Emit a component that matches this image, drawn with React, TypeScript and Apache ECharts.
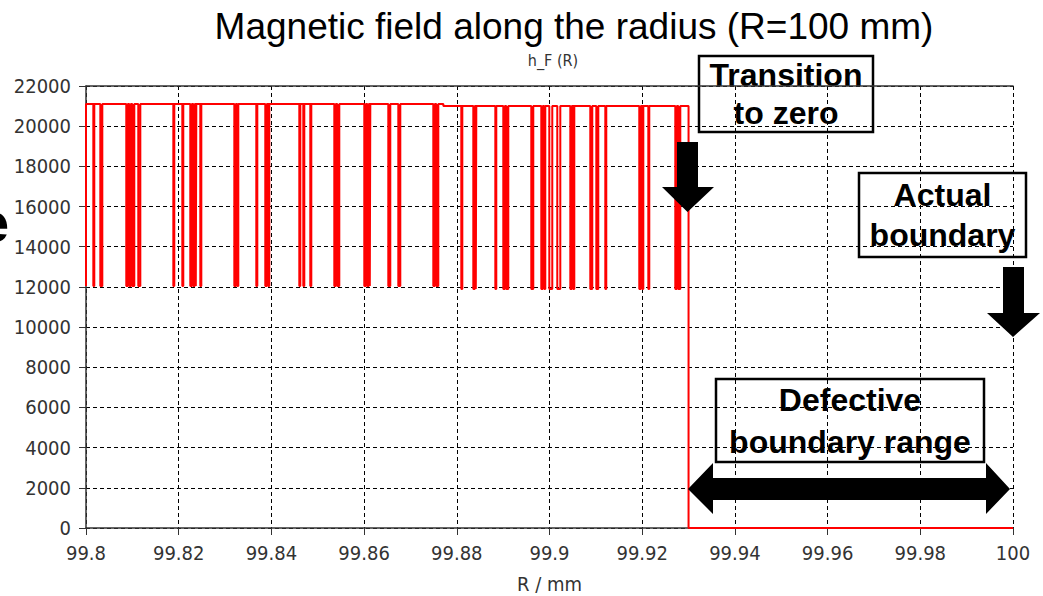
import React, { useEffect, useRef } from "react";
import * as echarts from "echarts";

// Radial positions (mm) where h_F drops into a dip and where it recovers
const dipStart = [
  99.80158, 99.80309, 99.80869, 99.80934, 99.80999, 99.81128, 99.81884, 99.82078, 99.8225, 99.82315,
  99.82369, 99.82466, 99.832, 99.83264, 99.83674, 99.83868, 99.83933, 99.84602, 99.84688, 99.84839,
  99.85357, 99.85422, 99.86004, 99.86069, 99.86123, 99.86522, 99.86738, 99.87493, 99.87558, 99.88097,
  99.88356, 99.8841, 99.88831, 99.89003, 99.89068, 99.89607, 99.89823, 99.89888, 99.89996, 99.90168,
  99.90449, 99.90513, 99.9088, 99.9101, 99.91204, 99.91937, 99.92002, 99.92132, 99.92714, 99.92779,
];
const dipEnd = [
  99.80179, 99.80352, 99.80902, 99.80967, 99.81042, 99.81172, 99.81905, 99.82099, 99.82283, 99.82347,
  99.8238, 99.82488, 99.83232, 99.83286, 99.83696, 99.83901, 99.83955, 99.84624, 99.8471, 99.84861,
  99.85389, 99.85465, 99.86037, 99.86101, 99.86134, 99.86565, 99.86781, 99.87525, 99.87601, 99.88119,
  99.88388, 99.88421, 99.88852, 99.89036, 99.89111, 99.8965, 99.89855, 99.89909, 99.9006, 99.90233,
  99.90481, 99.90535, 99.90923, 99.91053, 99.91225, 99.9197, 99.92024, 99.92153, 99.92747, 99.92822,
];

// Field levels (plateau / dip) before and after the small shift near R = 99.877 mm
const levelShiftR = 99.8771;
const plateauH = [21100, 21000];
const dipH = [12050, 11900];

// Range of the radius axis and where the field falls to zero
const rStart = 99.8;
const zeroFromR = 99.93;
const rEnd = 100;

// Axis ranges
const xMin = 99.8;
const xMax = 100;
const xStep = 0.02;
const yMin = 0;
const yMax = 22000;
const yStep = 2000;

const titleText = "Magnetic field along the radius (R=100 mm)";
const subTitleText = "h_F (R)";
const xName = "R / mm";
const noteTransition = "Transition\nto zero";
const noteActual = "Actual\nboundary";
const noteDefective = "Defective\nboundary range";

function buildSteps(): [number, number][] {
  const level = (r: number, arr: number[]) => (r < levelShiftR ? arr[0] : arr[1]);
  const events: [number, number][] = [];
  dipStart.forEach((s, i) => {
    events.push([s, level(s, dipH)]);
    events.push([dipEnd[i], level(dipEnd[i], plateauH)]);
  });
  events.push([levelShiftR, plateauH[1]]);
  events.sort((a, b) => a[0] - b[0]);
  return [
    [rStart, dipH[0]],
    [rStart, plateauH[0]],
    ...events,
    [zeroFromR, 0],
    [rEnd, 0],
  ];
}

const labelFont = "'DejaVu Sans Condensed', 'Liberation Sans', sans-serif";
const boldFont = "'Liberation Sans', Arial, sans-serif";

function noteBox(x: number, y: number, w: number, h: number, text: string, lineHeight: number) {
  return {
    type: "group",
    z: 100,
    children: [
      {
        type: "rect",
        shape: { x, y, width: w, height: h },
        style: { fill: "#fff", stroke: "#000", lineWidth: 2.5 },
      },
      {
        type: "text",
        style: {
          text,
          x: x + w / 2,
          y: y + h / 2,
          align: "center",
          verticalAlign: "middle",
          fontFamily: boldFont,
          fontWeight: "bold",
          fontSize: 32,
          lineHeight,
          fill: "#000",
        },
      },
    ],
  };
}

export default function App() {
  const ref = useRef<HTMLDivElement>(null);

  useEffect(() => {
    if (!ref.current) return;
    const chart = echarts.init(ref.current, undefined, { renderer: "svg" });
    const gridLine = { show: true, lineStyle: { color: "#000", width: 1, type: [4, 3] as any } };

    chart.setOption({
      animation: false,
      backgroundColor: "#fff",
      grid: {
        left: 86,
        right: 30,
        top: 86,
        bottom: 68,
        containLabel: false,
        outerBoundsMode: "none",
      },
      xAxis: [
        {
          type: "value",
          min: xMin,
          max: xMax,
          interval: xStep,
          name: xName,
          nameLocation: "middle",
          nameGap: 46,
          nameTextStyle: { fontFamily: labelFont, fontSize: 20, color: "#333" },
          axisLine: { show: true, onZero: false, lineStyle: { color: "#333", width: 1.5 } },
          axisTick: { show: true, length: 7, lineStyle: { color: "#333" } },
          axisLabel: {
            margin: 15,
            fontFamily: labelFont,
            fontSize: 20,
            color: "#333",
            formatter: (v: number) => String(+v.toFixed(2)),
          },
          splitLine: gridLine,
        },
        {
          type: "value",
          position: "top",
          min: xMin,
          max: xMax,
          interval: xStep,
          axisLine: { show: true, onZero: false, lineStyle: { color: "#333", width: 1.5 } },
          axisTick: { show: false },
          axisLabel: { show: false },
          splitLine: { show: false },
        },
      ],
      yAxis: {
        type: "value",
        min: yMin,
        max: yMax,
        interval: yStep,
        axisLine: { show: true, lineStyle: { color: "#333", width: 1.5 } },
        axisTick: { show: true, length: 7, lineStyle: { color: "#333" } },
        axisLabel: {
          margin: 15,
          fontFamily: labelFont,
          fontSize: 20,
          color: "#333",
          formatter: (v: number) => String(v),
        },
        splitLine: gridLine,
      },
      series: [
        {
          type: "line",
          xAxisIndex: 0,
          step: "end",
          showSymbol: false,
          lineStyle: { color: "#ff0000", width: 2 },
          data: buildSteps(),
          z: 5,
        },
      ],
      graphic: [
        {
          type: "text",
          z: 100,
          style: {
            text: titleText,
            x: 574,
            y: 8,
            align: "center",
            verticalAlign: "top",
            fontFamily: boldFont,
            fontSize: 37,
            fill: "#000",
          },
        },
        {
          type: "text",
          z: 100,
          style: {
            text: subTitleText,
            x: 553,
            y: 52,
            align: "center",
            verticalAlign: "top",
            fontFamily: labelFont,
            fontSize: 16,
            fill: "#333",
          },
        },
        {
          type: "text",
          z: 100,
          style: {
            text: "e",
            x: -22,
            y: 222,
            align: "left",
            verticalAlign: "middle",
            fontFamily: boldFont,
            fontWeight: "bold",
            fontSize: 56,
            fill: "#000",
          },
        },
        noteBox(699, 56, 174, 76, noteTransition, 38),
        noteBox(859, 173, 167, 84, noteActual, 40),
        noteBox(716, 379, 268, 83, noteDefective, 42),
        {
          type: "polygon",
          z: 100,
          shape: {
            points: [
              [677, 142], [698, 142], [698, 187], [714, 187], [687.5, 212], [662, 187], [677, 187],
            ],
          },
          style: { fill: "#000" },
        },
        {
          type: "polygon",
          z: 100,
          shape: {
            points: [
              [1003, 267], [1024, 267], [1024, 313], [1040, 313], [1013, 337], [987, 313], [1003, 313],
            ],
          },
          style: { fill: "#000" },
        },
        {
          type: "polygon",
          z: 100,
          shape: {
            points: [
              [688, 489], [713, 463], [713, 478], [986, 478], [986, 463], [1010, 489],
              [986, 514], [986, 500], [713, 500], [713, 514],
            ],
          },
          style: { fill: "#000" },
        },
      ],
    });

    return () => chart.dispose();
  }, []);

  return (
    <div
      ref={ref}
      style={{ position: "fixed", left: 0, top: 0, width: 1043, height: 596, background: "#fff" }}
    />
  );
}
